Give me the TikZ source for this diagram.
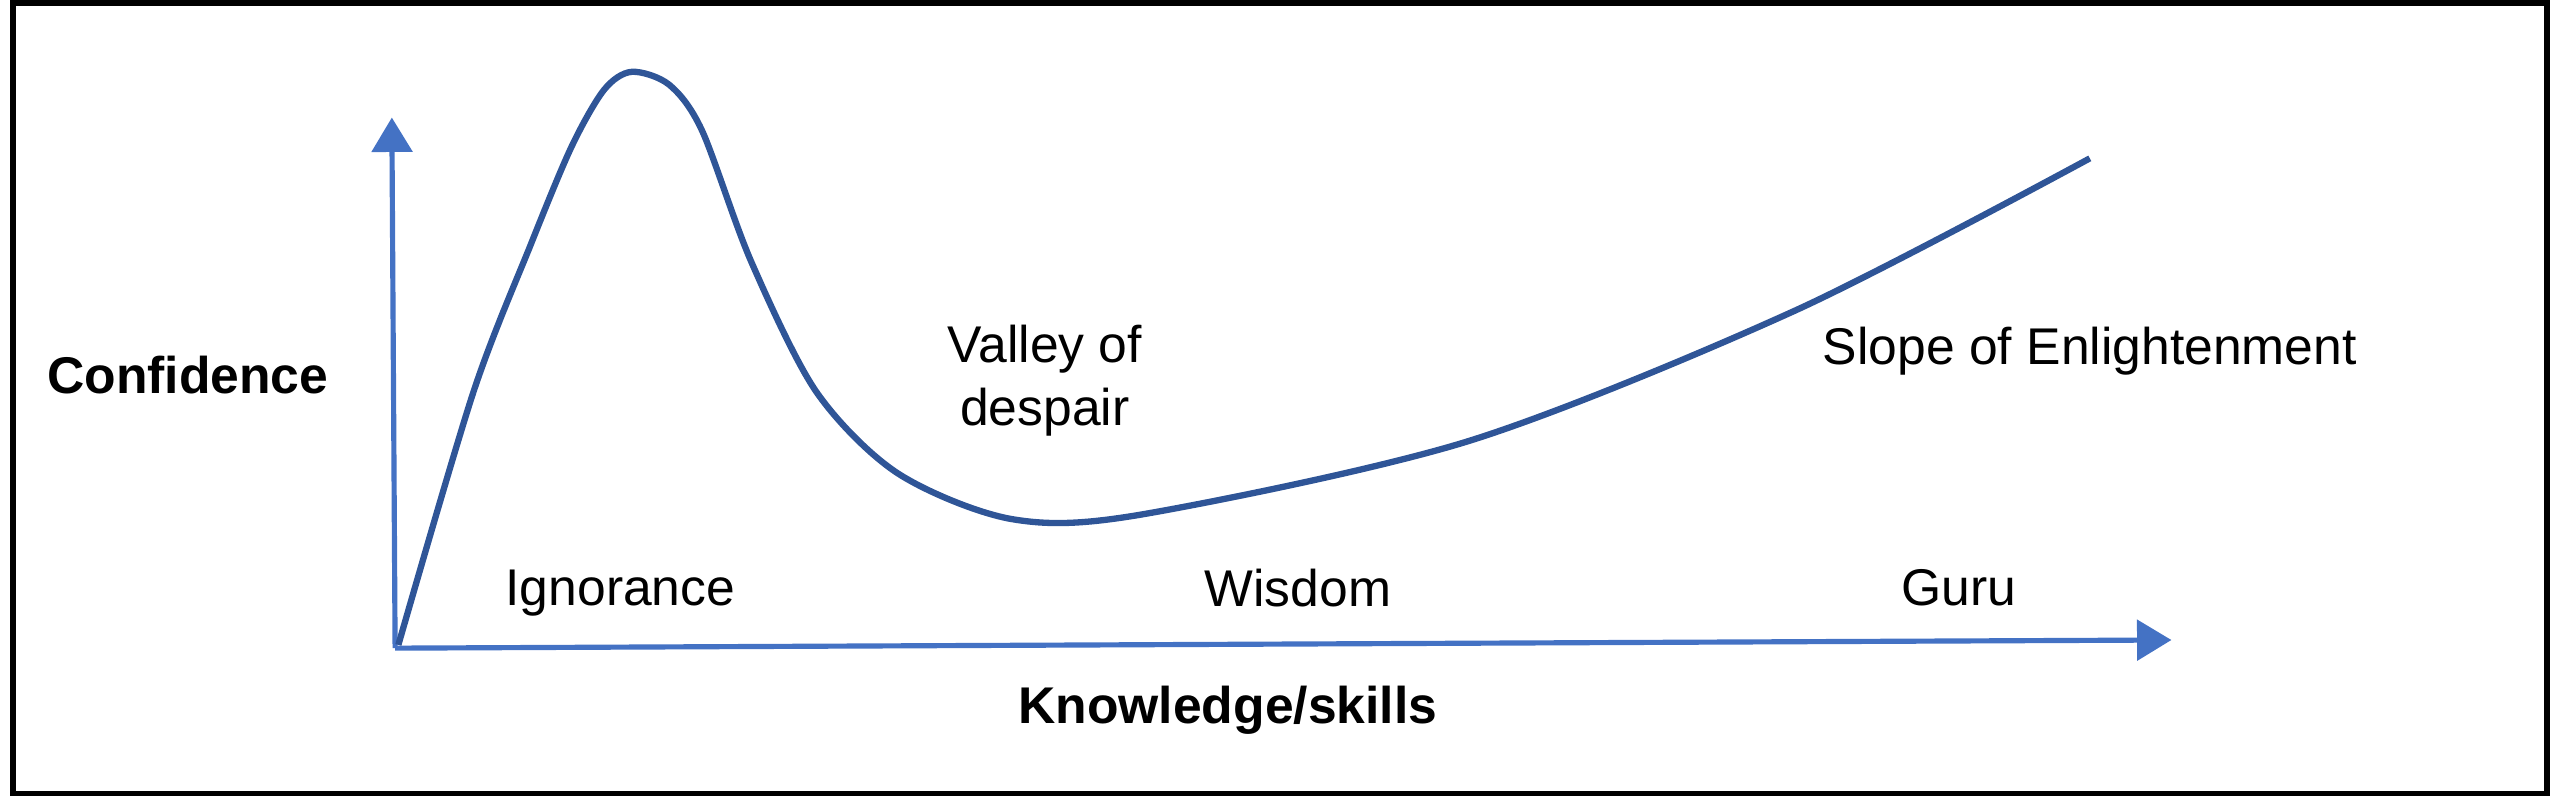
\documentclass[tikz,border=0pt]{standalone}
\usepackage{fontspec}
\setmainfont{Liberation Sans}
\usetikzlibrary{arrows.meta}
\definecolor{axisblue}{HTML}{4472C4}
\definecolor{curveblue}{HTML}{2F5597}
\begin{document}
\begin{tikzpicture}[axis/.style={axisblue,line width=0.9pt,-{Triangle[length=6pt,width=7pt]}},
  curve/.style={curveblue,line width=1.1pt},
  lbl/.style={font=\fontsize{9}{11}\selectfont,align=center},
  title/.style={font=\fontsize{9}{11}\selectfont\bfseries}]
\useasboundingbox (0,0) rectangle (15.68,4.91);
\draw[line width=1pt] (0.08,0.05) rectangle (15.60,4.89);
% axes
\coordinate (origin) at (2.42,0.94);
\coordinate (ytop) at (2.40,4.19);
\coordinate (xend) at (13.30,0.99);
\draw[axis] (origin) -- (ytop);
\draw[axis] (origin) -- (xend);
% curve
\draw[curve] plot[smooth,tension=0.5] coordinates {(2.44,0.96) (2.9,2.51) (3.25,3.41) (3.5,4.01) (3.7,4.36) (3.87,4.47) (4.1,4.39) (4.3,4.11) (4.6,3.31) (5.0,2.51) (5.5,2.01) (6.2,1.73) (7.0,1.76) (9.0,2.21) (11.0,3.01) (12.8,3.94)};
% labels
\node[title] (conf) at (1.15,2.61) {Confidence};
\node[title] (know) at (7.52,0.56) {Knowledge/skills};
\node[lbl] (ign) at (3.80,1.28) {Ignorance};
\node[lbl] (wis) at (7.95,1.31) {Wisdom};
\node[lbl] (guru) at (12.00,1.31) {Guru};
\node[lbl] (valley) at (6.40,2.58) {Valley of\\despair};
\node[lbl] (slope) at (12.80,2.76) {Slope of Enlightenment};
\end{tikzpicture}
\end{document}
